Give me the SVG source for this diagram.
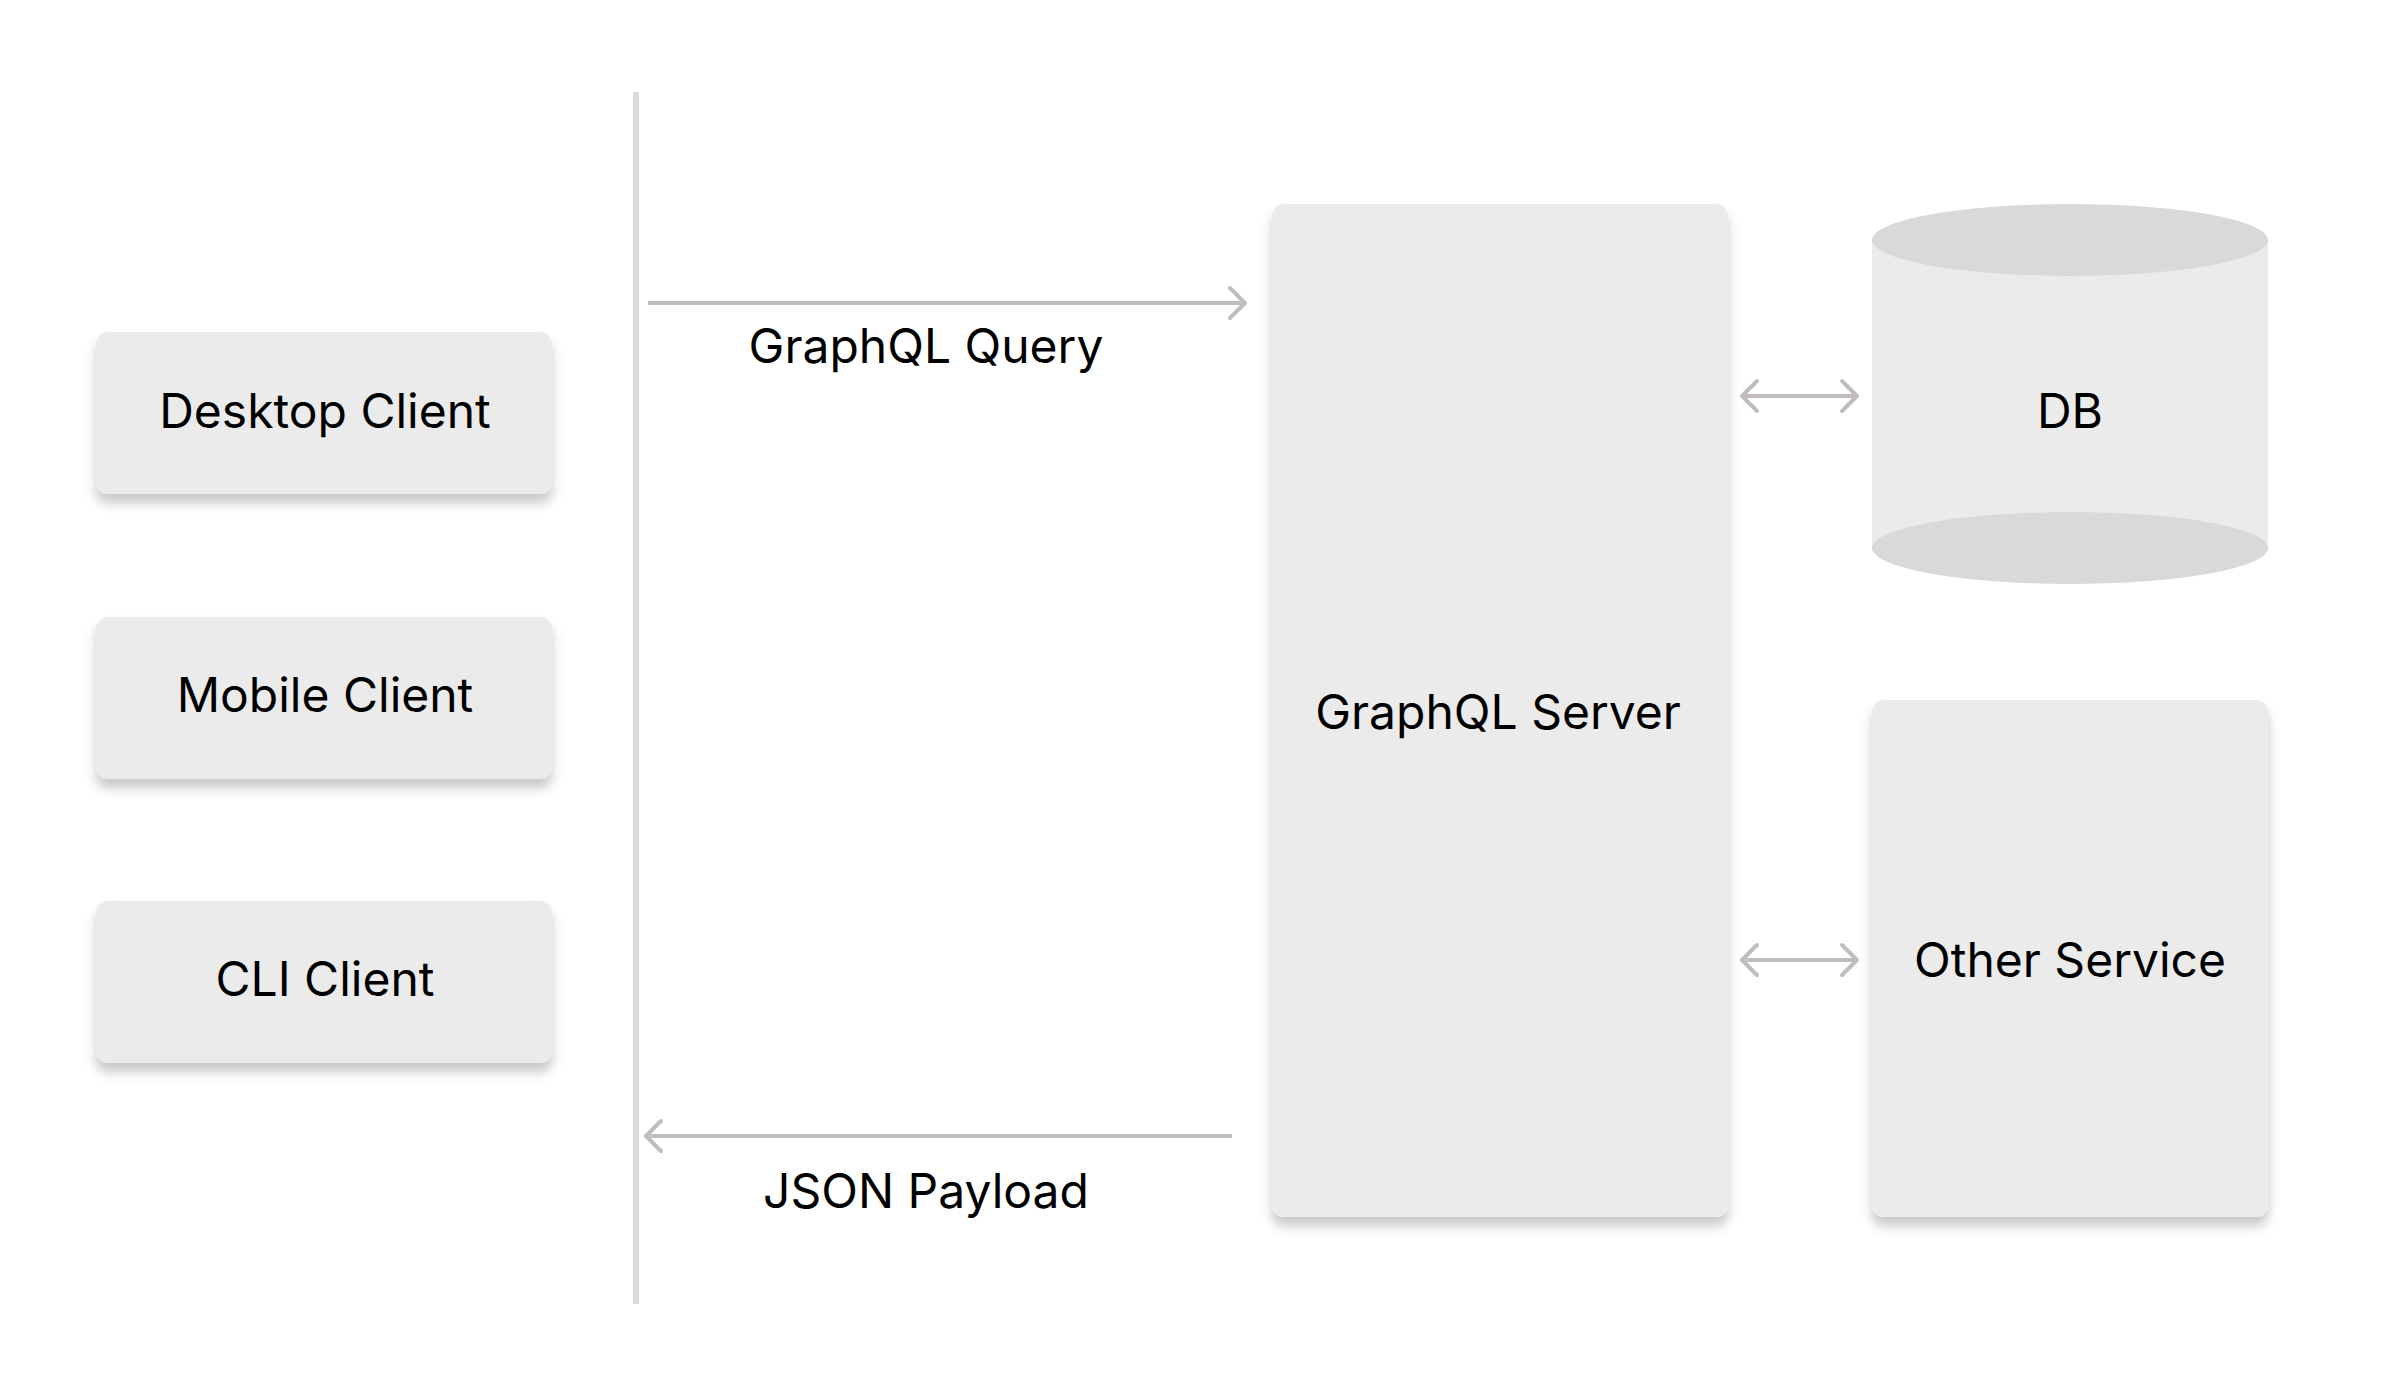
<svg xmlns="http://www.w3.org/2000/svg" width="2400" height="1400" viewBox="0 0 2400 1400">
  <defs>
    <filter id="shadow" x="-10%" y="-10%" width="120%" height="130%">
      <feDropShadow dx="0" dy="9" stdDeviation="6" flood-color="#000" flood-opacity="0.22"/>
    </filter>
    <marker id="chev" viewBox="-20 -20 24 40" markerWidth="24" markerHeight="40" refX="0" refY="0" orient="auto-start-reverse" markerUnits="userSpaceOnUse">
      <path d="M -15 -15 L 0 0 L -15 15" fill="none" stroke="#c0bdbc" stroke-width="4" stroke-linecap="round" stroke-linejoin="round"/>
    </marker>
    <style>
      .box { fill: #ecebec; filter: url(#shadow); }
      .lbl { font-family: Inter, "Liberation Sans", sans-serif; font-size: 48px; fill: #000; text-anchor: middle; }
      .conn { stroke: #c0bdbc; stroke-width: 4; fill: none; }
      .cap { fill: #d9d9d9; }
    </style>
  </defs>
  <rect width="2400" height="1400" fill="#fff"/>

  <g id="boundary">
    <line x1="636" y1="92" x2="636" y2="1304" stroke="#d9d9d9" stroke-width="6"/>
  </g>

  <g id="desktop-client">
    <rect class="box" x="96" y="332" width="456" height="162" rx="12"/>
    <text class="lbl" x="325" y="428">Desktop Client</text>
  </g>
  <g id="mobile-client">
    <rect class="box" x="96" y="617" width="456" height="162" rx="12"/>
    <text class="lbl" x="325" y="712">Mobile Client</text>
  </g>
  <g id="cli-client">
    <rect class="box" x="96" y="901" width="456" height="162" rx="12"/>
    <text class="lbl" x="325" y="996">CLI Client</text>
  </g>

  <g id="graphql-server">
    <rect class="box" x="1272" y="204" width="456" height="1013" rx="12"/>
    <text class="lbl" x="1498" y="729">GraphQL Server</text>
  </g>

  <g id="db">
    <rect x="1872" y="240" width="396" height="308" fill="#ecebec"/>
    <ellipse class="cap" cx="2070" cy="548" rx="198" ry="36"/>
    <ellipse class="cap" cx="2070" cy="240" rx="198" ry="36"/>
    <text class="lbl" x="2070" y="428">DB</text>
  </g>

  <g id="other-service">
    <rect class="box" x="1872" y="700" width="396" height="517" rx="12"/>
    <text class="lbl" x="2070" y="977">Other Service</text>
  </g>

  <g id="connectors">
    <line class="conn" x1="648" y1="303" x2="1245" y2="303" marker-end="url(#chev)"/>
    <text class="lbl" x="926" y="363">GraphQL Query</text>
    <line class="conn" x1="1232" y1="1136" x2="646" y2="1136" marker-end="url(#chev)"/>
    <text class="lbl" x="926" y="1208">JSON Payload</text>
    <line class="conn" x1="1742" y1="396" x2="1857" y2="396" marker-start="url(#chev)" marker-end="url(#chev)"/>
    <line class="conn" x1="1742" y1="960" x2="1857" y2="960" marker-start="url(#chev)" marker-end="url(#chev)"/>
  </g>
</svg>
